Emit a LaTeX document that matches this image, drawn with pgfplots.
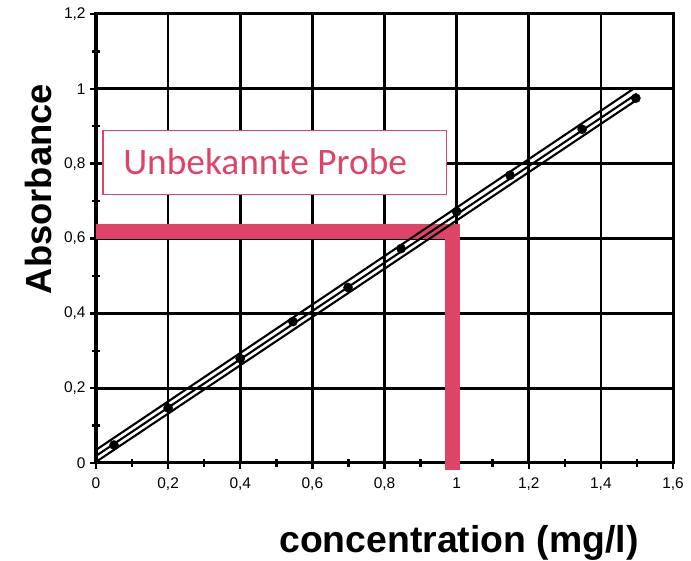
\documentclass[border=0pt]{standalone}
\usepackage{fontspec}
\setmainfont{Liberation Sans}
\newfontfamily\calibri{Carlito}
\usepackage{pgfplots}
\pgfplotsset{compat=1.18}
\definecolor{probe}{RGB}{222,68,104}
\begin{document}
\begin{tikzpicture}
\useasboundingbox (0,0) rectangle (691bp,561bp);
\begin{axis}[
  at={(96bp,98bp)}, anchor=south west,
  width=577bp, height=449bp, scale only axis,
  xmin=0, xmax=1.6, ymin=0, ymax=1.2,
  xtick={0,0.2,0.4,0.6,0.8,1,1.2,1.4,1.6},
  ytick={0,0.2,0.4,0.6,0.8,1,1.2},
  minor x tick num=1, minor y tick num=1,
  grid=major,
  major grid style={black, line width=2.7bp},
  axis line style={black, line width=3bp},
  tick style={black, line width=2.4bp},
  tick align=center,
  major tick length=12bp,
  minor tick length=8bp,
  xtick pos=left, ytick pos=left,
  /pgf/number format/use comma,
  /pgf/number format/assume math mode=true,
  tick label style={font=\fontsize{15.5}{18}\selectfont},
  xticklabel style={yshift=-5bp},
  yticklabel style={xshift=-1bp},
  clip=false,
  xlabel={concentration (mg/l)},
  ylabel={Absorbance},
  xlabel style={at={(axis description cs:0.629,-0.178)}, anchor=center, font=\bfseries\fontsize{37.5}{43}\selectfont},
  ylabel style={at={(axis description cs:-0.1005,0.61)}, anchor=center, rotate=0, font=\bfseries\fontsize{36.5}{43}\selectfont},
]
\addplot[probe, line width=15bp, line join=miter, line cap=butt] coordinates {(0,0.62) (0.988,0.62) (0.988,-0.019)};
\draw[probe, line width=1.3bp, fill=white] (axis cs:0.019,0.718) rectangle (axis cs:0.971,0.889);
\node[text=probe, anchor=base, font=\calibri\fontsize{37.5}{43}\selectfont] at (axis cs:0.469,0.771) {Unbekannte Probe};
\addplot[black, line width=2.1bp] coordinates {(0,0.035) (1.495,1.003)};
\addplot[black, line width=2.1bp] coordinates {(0,0.019) (1.5,0.987)};
\addplot[black, line width=2.1bp] coordinates {(0,0.003) (1.505,0.974)};
\addplot[only marks, mark=*, mark size=4.6bp, black] coordinates {
(0.05,0.048) (0.2,0.147) (0.4,0.279) (0.546,0.378) (0.699,0.469)
(0.846,0.573) (1.0,0.672) (1.148,0.769) (1.348,0.892) (1.497,0.975)};
\end{axis}
\end{tikzpicture}
\end{document}
